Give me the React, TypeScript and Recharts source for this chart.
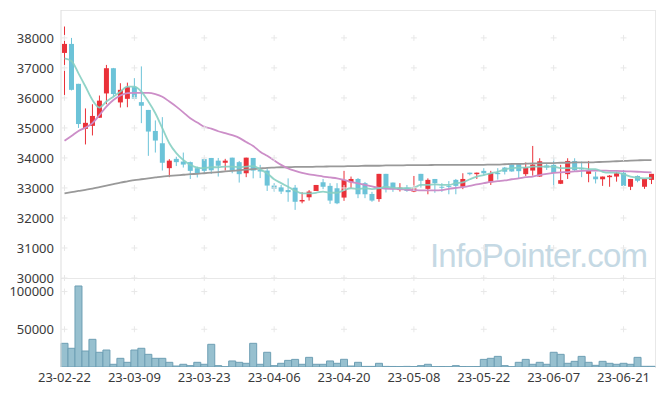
import React from "react";
import { ComposedChart, Bar, Line, XAxis, YAxis, ReferenceDot } from "recharts";

const dates = [
  "23-02-22", "23-02-23", "23-02-24", "23-02-27", "23-02-28", "23-03-02", "23-03-03", "23-03-06", "23-03-07", "23-03-08",
  "23-03-09", "23-03-10", "23-03-13", "23-03-14", "23-03-15", "23-03-16", "23-03-17", "23-03-20", "23-03-21", "23-03-22",
  "23-03-23", "23-03-24", "23-03-27", "23-03-28", "23-03-29", "23-03-30", "23-03-31", "23-04-03", "23-04-04", "23-04-05",
  "23-04-06", "23-04-07", "23-04-10", "23-04-11", "23-04-12", "23-04-13", "23-04-14", "23-04-17", "23-04-18", "23-04-19",
  "23-04-20", "23-04-21", "23-04-24", "23-04-25", "23-04-26", "23-04-27", "23-04-28", "23-05-02", "23-05-03", "23-05-04",
  "23-05-08", "23-05-09", "23-05-10", "23-05-11", "23-05-12", "23-05-15", "23-05-16", "23-05-17", "23-05-18", "23-05-19",
  "23-05-22", "23-05-23", "23-05-24", "23-05-25", "23-05-26", "23-05-30", "23-05-31", "23-06-01", "23-06-02", "23-06-05",
  "23-06-07", "23-06-08", "23-06-09", "23-06-12", "23-06-13", "23-06-14", "23-06-15", "23-06-16", "23-06-19", "23-06-20",
  "23-06-21", "23-06-22", "23-06-23", "23-06-26", "23-06-27",
];

const opens = [
  37500, 37800, 36470, 34970, 35070, 35340, 36150, 36990, 35850, 35970,
  36360, 35860, 35600, 34900, 34490, 33660, 33970, 33880, 33860, 33660,
  33960, 34000, 33910, 33840, 34010, 33860, 33490, 34000, 33600, 33580,
  33080, 33020, 32930, 33010, 32550, 32690, 32900, 33190, 33070, 32990,
  32680, 33190, 33300, 33160, 32800, 32630, 33470, 33180, 32930, 33010,
  32880, 33470, 32970, 33300, 33040, 33070, 33270, 33040, 33510, 33460,
  33570, 33190, 33500, 33680, 33790, 33820, 33460, 33580, 33380, 33750,
  33770, 33140, 33460, 33900, 33660, 33470, 33380, 33290, 33360, 33380,
  33510, 33040, 33400, 33040, 33270,
];
const highs = [
  38380, 38000, 36470, 35650, 35790, 36080, 37100, 37000, 36490, 36510,
  36660, 37050, 35600, 35250, 35360, 33960, 34040, 34180, 33880, 33710,
  33990, 34000, 34000, 33970, 34010, 33900, 34010, 34000, 33770, 33660,
  33160, 33100, 33320, 33100, 32860, 32930, 33100, 33300, 33160, 33160,
  33570, 33380, 33330, 33200, 32870, 33470, 33470, 33180, 33160, 33100,
  33400, 33470, 33320, 33300, 33160, 33230, 33300, 33490, 33510, 33510,
  33660, 33570, 33660, 33700, 33820, 33830, 33850, 34400, 33990, 33830,
  33990, 33770, 33990, 33990, 33880, 33900, 33540, 33380, 33430, 33540,
  33600, 33300, 33420, 33300, 33470,
];
const lows = [
  36080, 36250, 35000, 34450, 34750, 35340, 35790, 36040, 35680, 35690,
  35960, 35160, 34070, 34180, 33580, 33360, 33730, 33680, 33300, 33350,
  33470, 33470, 33380, 33580, 33490, 33180, 33360, 33320, 33330, 32900,
  32880, 32800, 32540, 32270, 32490, 32580, 32900, 32960, 32470, 32460,
  32570, 32990, 32660, 32660, 32540, 32540, 32850, 32870, 32880, 32870,
  32860, 33010, 32790, 32840, 32870, 32790, 32790, 32960, 33420, 33300,
  33410, 33100, 33280, 33450, 33540, 33300, 33400, 33410, 33370, 33600,
  32990, 33130, 33300, 33540, 33360, 33190, 33150, 33070, 33040, 33210,
  32990, 32930, 33190, 32970, 33130,
];
const closes = [
  37800, 36270, 35130, 35170, 35400, 35910, 36990, 36130, 36270, 36360,
  35970, 35740, 34880, 34580, 33840, 33910, 33860, 33780, 33570, 33490,
  33570, 33590, 33740, 33910, 33580, 33460, 34010, 33580, 33550, 33080,
  32970, 32880, 32860, 32540, 32600, 32880, 33100, 33040, 32580, 32490,
  33270, 33300, 32790, 32790, 32580, 33470, 32960, 32960, 33010, 32900,
  33000, 33240, 33270, 33160, 33010, 33040, 33070, 33300, 33460, 33510,
  33490, 33490, 33460, 33540, 33550, 33560, 33690, 33780, 33890, 33680,
  33500, 33260, 33900, 33590, 33620, 33580, 33290, 33380, 33410, 33490,
  33070, 33300, 33240, 33300, 33470,
];

const ma5 = [
  37320, 37230, 36820, 36380, 35930, 35680, 35880, 36040, 36210, 36380,
  36380, 36210, 35880, 35490, 34990, 34490, 34160, 33930, 33770, 33680,
  33660, 33690, 33690, 33710, 33710, 33690, 33710, 33730, 33620, 33490,
  33290, 33160, 33040, 32910, 32820, 32820, 32840, 32880, 32840, 32840,
  32930, 32990, 32960, 32990, 32960, 32990, 33040, 33010, 32990, 32990,
  33010, 33100, 33100, 33120, 33100, 33100, 33160, 33190, 33290, 33380,
  33430, 33490, 33540, 33620, 33660, 33680, 33680, 33710, 33710, 33710,
  33710, 33660, 33660, 33660, 33660, 33630, 33630, 33540, 33510, 33510,
  33460, 33380, 33340, 33320, 33340,
];
const ma20 = [
  34570, 34730, 34900, 35010, 35160, 35430, 35710, 35930, 36080, 36160,
  36170, 36170, 36170, 36130, 36040, 35880, 35710, 35520, 35320, 35180,
  35040, 34980, 34890, 34830, 34760, 34670, 34530, 34400, 34210, 34070,
  33920, 33770, 33650, 33570, 33500, 33450, 33420, 33380, 33350, 33320,
  33270, 33200, 33150, 33100, 33050, 33000, 32980, 32970, 32960, 32940,
  32930, 32920, 32920, 32920, 32930, 32970, 33000, 33030, 33070, 33120,
  33160, 33200, 33230, 33250, 33290, 33320, 33360, 33380, 33430, 33470,
  33500, 33520, 33530, 33550, 33570, 33580, 33580, 33580, 33570, 33570,
  33560, 33550, 33540, 33530, 33520,
];
const ma60 = [
  32820, 32860, 32900, 32940, 32980, 33030, 33080, 33130, 33180, 33220,
  33260, 33290, 33320, 33350, 33380, 33400, 33420, 33440, 33460, 33470,
  33490, 33510, 33530, 33550, 33570, 33590, 33610, 33630, 33650, 33670,
  33680, 33690, 33690, 33700, 33700, 33700, 33710, 33710, 33720, 33720,
  33720, 33730, 33730, 33740, 33740, 33740, 33750, 33750, 33750, 33760,
  33760, 33760, 33760, 33770, 33770, 33770, 33770, 33770, 33770, 33770,
  33770, 33780, 33780, 33790, 33800, 33800, 33810, 33820, 33820, 33830,
  33830, 33840, 33840, 33850, 33850, 33850, 33860, 33870, 33880, 33890,
  33900, 33910, 33920, 33930, 33930,
];

const volumes = [
  31400, 24800, 107400, 21200, 36700, 19500, 22500, 3600, 11500, 6200,
  22500, 24800, 16800, 11500, 11500, 6200, 1300, 3600, 1800, 6200,
  3600, 30100, 1800, 400, 8000, 6200, 4900, 31400, 3600, 19500,
  1800, 4900, 8800, 10100, 3600, 12800, 3600, 3600, 8000, 4900,
  10200, 1300, 6200, 800, 800, 4900, 800, 700, 600, 800,
  600, 1800, 3600, 500, 600, 500, 1800, 600, 500, 600,
  10100, 11500, 14100, 1800, 400, 6200, 10100, 3600, 6200, 3600,
  19500, 16800, 4900, 7500, 14100, 6200, 2200, 7500, 4900, 3600,
  4900, 3600, 12800, 900, 900,
];

const priceTicks = [30000, 31000, 32000, 33000, 34000, 35000, 36000, 37000, 38000];
const volumeTicks = [50000, 100000];
const gridDates = [0, 10, 20, 30, 40, 50, 60, 70, 80].map((i) => dates[i]);

const RED = "#ea3139";
const BLUE = "#6cc3d8";
const FONT = "'Noto Sans', sans-serif";
const tickStyle = { fontSize: 13, fill: "#3a3a3a", fontFamily: FONT };

const rows = dates.map((date, i) => ({
  date,
  open: opens[i],
  high: highs[i],
  low: lows[i],
  close: closes[i],
  range: [lows[i], highs[i]],
  ma5: ma5[i],
  ma20: ma20[i],
  ma60: ma60[i],
  volume: volumes[i],
}));

const Candle = (props: any) => {
  const { x, y, width, height, payload } = props;
  if (x == null || y == null) return null;
  const { open, close, high, low } = payload;
  const color = close >= open ? RED : BLUE;
  const top = Math.min(y, y + height);
  const h = Math.abs(height);
  const ratio = high === low ? 0 : h / (high - low);
  const yOf = (v: number) => top + (high - v) * ratio;
  const cx = x + width / 2;
  const bTop = yOf(Math.max(open, close));
  const bBot = yOf(Math.min(open, close));
  return (
    <g>
      <line x1={cx} x2={cx} y1={top} y2={top + h} stroke={color} strokeWidth={1} />
      <rect x={x} y={bTop} width={width} height={Math.max(1, bBot - bTop)} fill={color} />
    </g>
  );
};

const Plus = (props: any) => {
  const { cx, cy } = props;
  if (cx == null || cy == null) return null;
  return <path d={`M${cx - 3},${cy}h6M${cx},${cy - 3}v6`} stroke="#e8e8e8" strokeWidth={1} fill="none" />;
};

const App = () => {
  return (
    <div style={{ position: "absolute", left: 0, top: 0, width: 665, height: 396, background: "#fff" }}>
      {/* frame */}
      <div style={{ position: "absolute", left: 61, top: 10, width: 594, height: 357, borderTop: "1px solid #e8e8e8", borderRight: "1px solid #e8e8e8" }} />
      <div style={{ position: "absolute", left: 61, top: 278, width: 594, height: 0, borderTop: "1px solid #e8e8e8" }} />

      <svg width={665} height={396} style={{ position: "absolute", left: 0, top: 0 }}>
        <text x={430} y={267} fontFamily="'Liberation Sans', Arial, sans-serif" fontSize={33} letterSpacing={-0.8} fill="#c5d9e4">
          InfoPointer.com
        </text>
      </svg>

      <div style={{ position: "absolute", left: 0, top: 0 }}>
        <ComposedChart width={665} height={290} data={rows} margin={{ top: 10, right: 10, bottom: 12, left: 0 }}>
          <XAxis dataKey="date" hide />
          <YAxis
            domain={[30000, 38930]}
            ticks={priceTicks}
            width={61}
            tickSize={0}
            tickMargin={7}
            tickLine={false}
            axisLine={{ stroke: "#dddddd" }}
            tick={tickStyle}
            allowDataOverflow
          />
          {gridDates.map((d) =>
            priceTicks.map((p) => (
              <ReferenceDot key={d + p} x={d} y={p} r={0} shape={Plus} ifOverflow="visible" />
            ))
          )}
          <Bar dataKey="range" shape={Candle} barSize={5} isAnimationActive={false} />
          <Line type="monotone" dataKey="ma60" stroke="#999999" strokeWidth={1.8} dot={false} isAnimationActive={false} />
          <Line type="monotone" dataKey="ma20" stroke="#cc8ec8" strokeWidth={1.8} dot={false} isAnimationActive={false} />
          <Line type="monotone" dataKey="ma5" stroke="#86cfc2" strokeWidth={1.8} strokeOpacity={0.9} dot={false} isAnimationActive={false} />
        </ComposedChart>
      </div>

      <div style={{ position: "absolute", left: 0, top: 278 }}>
        <ComposedChart width={665} height={118} data={rows} margin={{ top: 0, right: 10, bottom: 0, left: 0 }} barCategoryGap={0}>
          <XAxis
            dataKey="date"
            interval={9}
            height={29}
            tickSize={0}
            tickMargin={6}
            tickLine={false}
            axisLine={false}
            tick={tickStyle}
          />
          <YAxis
            domain={[0, 118000]}
            ticks={volumeTicks}
            width={61}
            tickSize={0}
            tickMargin={7}
            tickLine={false}
            axisLine={{ stroke: "#dddddd" }}
            tick={tickStyle}
            allowDataOverflow
          />
          {gridDates.map((d) =>
            volumeTicks.map((v) => (
              <ReferenceDot key={d + v} x={d} y={v} r={0} shape={Plus} ifOverflow="visible" />
            ))
          )}
          <Bar dataKey="volume" fill="#97c0cf" stroke="#6e9fb4" strokeWidth={1} isAnimationActive={false} />
        </ComposedChart>
      </div>
    </div>
  );
};

export default App;
